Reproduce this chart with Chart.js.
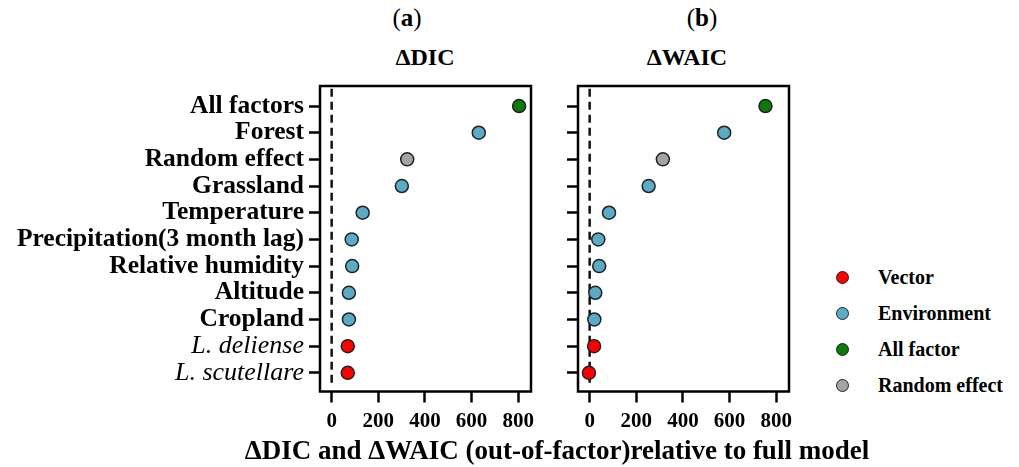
<!DOCTYPE html>
<html>
<head>
    <style>
        body {
            margin: 0;
            width: 1019px;
            height: 467px;
            background: #fff;
            position: relative;
            overflow: hidden;
            font-family: "Liberation Serif", "Times New Roman", serif;
            color: #000;
        }
        canvas {
            position: absolute;
            top: 0;
        }
        .txt {
            position: absolute;
            transform: translate(-50%, -50%);
            white-space: nowrap;
            font-weight: bold;
        }
        .legend-item {
            position: absolute;
            height: 20px;
            transform: translateY(-50%);
            display: flex;
            align-items: center;
            font-weight: bold;
            font-size: 20px;
            white-space: nowrap;
        }
        .legend-dot {
            width: 11px;
            height: 11px;
            border-radius: 50%;
            border: 1.5px solid #222;
            margin-right: 29px;
        }
    </style>
    <script src="https://cdn.jsdelivr.net/npm/chart.js"></script>
</head>
<body>
    <div class="txt" style="left:407px; top:18px; font-size:25px; font-weight:normal;">(<b>a</b>)</div>
    <div class="txt" style="left:425px; top:57px; font-size:24px;">&Delta;DIC</div>
    <div class="txt" style="left:702px; top:18px; font-size:25px; font-weight:normal;">(<b>b</b>)</div>
    <div class="txt" style="left:687px; top:57px; font-size:24px;">&Delta;WAIC</div>
    <canvas id="chartA" width="545" height="467" style="left:0px;"></canvas>
    <canvas id="chartB" width="255" height="467" style="left:545px;"></canvas>
    <div class="txt" style="left:557px; top:450px; font-size:27px;">&Delta;DIC and &Delta;WAIC (out-of-factor)relative to full model</div>
    <div id="legend"></div>
    <script>
        // factors, top to bottom
        var categories = ['All factors', 'Forest', 'Random effect', 'Grassland', 'Temperature',
            'Precipitation(3 month lag)', 'Relative humidity', 'Altitude', 'Cropland',
            'L. deliense', 'L. scutellare'];
        var groupOf = ['All factor', 'Environment', 'Random effect', 'Environment', 'Environment',
            'Environment', 'Environment', 'Environment', 'Environment', 'Vector', 'Vector'];
        var dicValues = [804, 631, 324, 301, 133, 86, 88, 74, 74, 69, 69];
        var waicValues = [754, 577, 314, 253, 83, 37, 41, 24, 20, 19, -3];
        var xTicks = [0, 200, 400, 600, 800];

        // legend order and colours
        var groups = ['Vector', 'Environment', 'All factor', 'Random effect'];
        var groupColors = ['#ff0000', '#5aabc6', '#0a7a0a', '#a2a2a8'];

        var serif = '"Liberation Serif", "Times New Roman", serif';

        // full box round the plot area
        var boxPlugin = {
            id: 'box',
            afterDraw: function(chart) {
                var a = chart.chartArea;
                var c = chart.ctx;
                c.save();
                c.strokeStyle = '#000';
                c.lineWidth = 2.5;
                c.strokeRect(a.left, a.top, a.right - a.left, a.bottom - a.top);
                c.restore();
            }
        };

        function buildDatasets(values) {
            var sets = groups.map(function(g, gi) {
                var pts = [];
                categories.forEach(function(cat, i) {
                    if (groupOf[i] === g) pts.push({ x: values[i], y: i });
                });
                return {
                    type: 'scatter',
                    label: g,
                    data: pts,
                    backgroundColor: groupColors[gi],
                    borderColor: '#222',
                    borderWidth: 1.5,
                    pointRadius: 6.5,
                    pointHoverRadius: 6.5
                };
            });
            // dashed zero line, drawn below the dots
            sets.push({
                type: 'line',
                label: 'zero',
                data: [{ x: 0, y: -0.65 }, { x: 0, y: 10.45 }],
                borderColor: '#111',
                borderWidth: 2.5,
                borderDash: [8, 5],
                pointRadius: 0,
                fill: false
            });
            return sets;
        }

        function makeChart(id, values, yWidth, padRight, showLabels) {
            return new Chart(document.getElementById(id).getContext('2d'), {
                type: 'scatter',
                data: { datasets: buildDatasets(values) },
                options: {
                    responsive: false,
                    animation: false,
                    events: [],
                    layout: { padding: { top: 86, right: padRight, bottom: 0, left: 0 } },
                    plugins: { legend: { display: false }, tooltip: { enabled: false } },
                    scales: {
                        x: {
                            type: 'linear',
                            min: -50,
                            max: 855,
                            afterBuildTicks: function(scale) {
                                scale.ticks = xTicks.map(function(v) { return { value: v }; });
                            },
                            afterFit: function(scale) { scale.height = 75.5; },
                            border: { display: false },
                            grid: { drawOnChartArea: false, tickLength: 11, tickWidth: 2.5, tickColor: '#000' },
                            ticks: {
                                color: '#000',
                                padding: 6,
                                maxRotation: 0,
                                font: { family: serif, size: 21, weight: 'bold' }
                            }
                        },
                        y: {
                            type: 'linear',
                            reverse: true,
                            min: -0.75,
                            max: 10.7,
                            afterBuildTicks: function(scale) {
                                scale.ticks = categories.map(function(c, i) { return { value: i }; });
                            },
                            afterFit: function(scale) { scale.width = yWidth; },
                            border: { display: false },
                            grid: { drawOnChartArea: false, tickLength: 11, tickWidth: 2.5, tickColor: '#000' },
                            ticks: {
                                color: '#000',
                                padding: 5,
                                autoSkip: false,
                                callback: function(v) { return showLabels ? categories[v] : ''; },
                                font: function(ctx) {
                                    var i = ctx.tick ? ctx.tick.value : 0;
                                    var italic = groupOf[i] === 'Vector';
                                    return { family: serif, size: italic ? 26 : 25.5, weight: italic ? 'normal' : 'bold', style: italic ? 'italic' : 'normal' };
                                }
                            }
                        }
                    }
                },
                plugins: [boxPlugin]
            });
        }

        makeChart('chartA', dicValues, 320, 14, true);
        makeChart('chartB', waicValues, 33, 11, false);

        // legend
        var legendTop = [277, 313, 349, 385];
        var legend = document.getElementById('legend');
        groups.forEach(function(g, i) {
            var item = document.createElement('div');
            item.className = 'legend-item';
            item.style.left = '836px';
            item.style.top = legendTop[i] + 'px';
            item.innerHTML = '<span class="legend-dot" style="background:' + groupColors[i] + '"></span>' + g;
            legend.appendChild(item);
        });
    </script>
</body>
</html>
